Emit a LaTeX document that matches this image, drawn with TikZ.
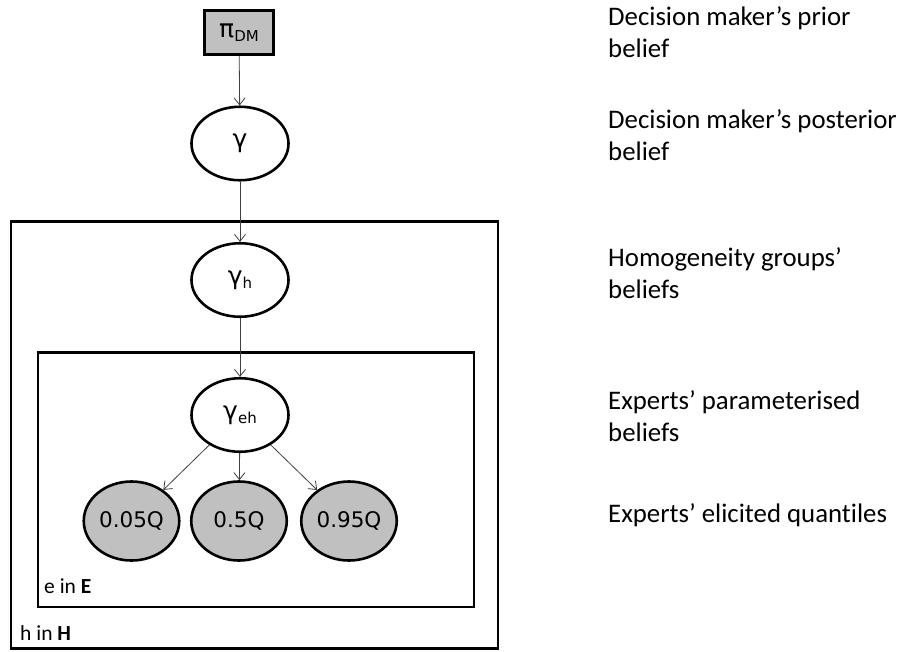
\documentclass[tikz,border=0pt]{standalone}
\usepackage{fontspec}
\setmainfont[Ligatures=NoCommon]{Carlito}
\newfontfamily\symfont{DejaVu Sans}
\usetikzlibrary{shapes.geometric,arrows.meta}
\definecolor{obsgray}{HTML}{C0C0C0}
\definecolor{edgegray}{HTML}{404040}
\newcommand{\greek}[1]{{\fontsize{25}{25}\selectfont #1}}
\newcommand{\lowsub}[1]{{\fontsize{15}{15}\selectfont\raisebox{-4pt}{#1}}}
\begin{document}
\begin{tikzpicture}[x=1pt,y=-1pt,
  var/.style={ellipse, draw, line width=2.6pt, fill=white,
    minimum width=97pt, minimum height=73.5pt, inner sep=0pt,
    font=\symfont\fontsize{21.5}{24}\selectfont},
  obs/.style={var, fill=obsgray, minimum width=95.5pt, minimum height=79pt},
  prior/.style={rectangle, draw, line width=2.6pt, fill=obsgray,
    minimum width=69.5pt, minimum height=44.5pt, inner sep=0pt,
    font=\symfont\fontsize{21}{24}\selectfont},
  plate/.style={draw, line width=2.8pt},
  edge/.style={draw=edgegray, line width=0.8pt,
    -{Straight Barb[length=7pt,width=11pt]}},
  desc/.style={anchor=north west, align=left, inner sep=0pt,
    font=\fontsize{26.8}{32}\selectfont},
  platelabel/.style={anchor=base west, inner sep=0pt,
    font=\fontsize{21.5}{24}\selectfont}
]
\useasboundingbox (0,0) rectangle (902,651);

% plates
\draw[plate] (11,221.5) rectangle (498,648.5);
\draw[plate] (38,352.5) rectangle (474,607);
\node[platelabel] (Elab) at (44,593) {e in \textbf{E}};
\node[platelabel] (Hlab) at (20,640) {h in \textbf{H}};

% nodes
\node[prior] (pi) at (239,32.5) {\greek{π}\lowsub{DM}};
\node[var] (g) at (240,143.5) {\greek{γ}};
\node[var] (gh) at (240,280) {\greek{γ}\lowsub{h}};
\node[var] (geh) at (240,415) {\greek{γ}\lowsub{eh}};
\node[obs] (q1) at (131.5,521) {0.05Q};
\node[obs] (q2) at (239,521) {0.5Q};
\node[obs] (q3) at (349,521) {0.95Q};

% edges
\draw[edge] (pi) -- (g);
\draw[edge] (g) -- (gh);
\draw[edge] (gh) -- (geh);
\draw[edge] (geh) -- (q1);
\draw[edge] (geh) -- (q2);
\draw[edge] (geh) -- (q3);

% level descriptions
\node[desc] (d1) at (608,6) {Decision maker’s prior\\belief};
\node[desc] (d2) at (608,109) {Decision maker’s posterior\\belief};
\node[desc] (d3) at (608,247) {Homogeneity groups’\\beliefs};
\node[desc] (d4) at (608,390) {Experts’ parameterised\\beliefs};
\node[desc] (d5) at (608,503) {Experts’ elicited quantiles};
\end{tikzpicture}
\end{document}
